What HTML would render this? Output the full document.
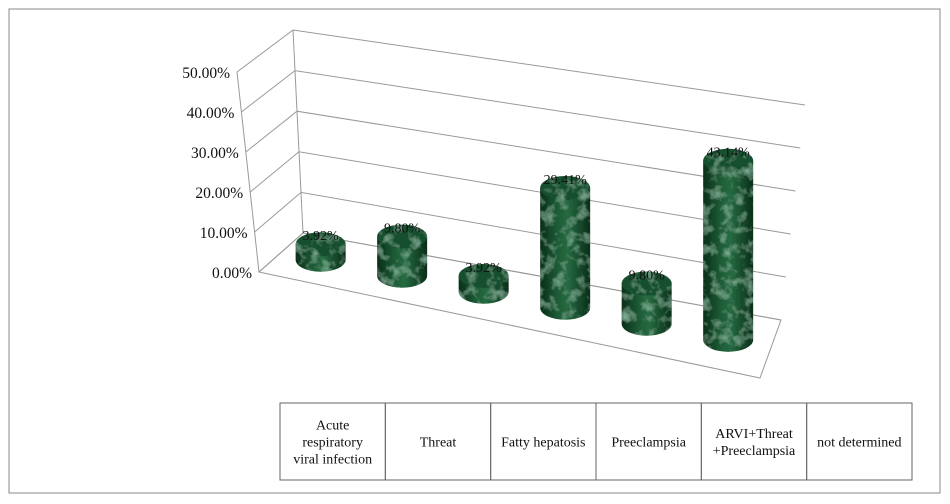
<!DOCTYPE html>
<html><head><meta charset="utf-8"><style>
body{margin:0;background:#fff;width:950px;height:504px;overflow:hidden;font-family:"Liberation Serif",serif}
svg{position:absolute;left:0;top:0}
</style></head><body>
<svg width="950" height="504">
<defs>
<linearGradient id="cylg" x1="0" x2="1" y1="0" y2="0">
<stop offset="0" stop-color="#082e18"/><stop offset="0.35" stop-color="#1d5c36"/><stop offset="0.55" stop-color="#266a41"/><stop offset="1" stop-color="#082e18"/></linearGradient>
<filter id="marble" x="0" y="0" width="100%" height="100%">
<feTurbulence type="fractalNoise" baseFrequency="0.09" numOctaves="3" seed="3" result="n"/>
<feColorMatrix in="n" type="matrix" values="0 0 0 0 0.3  0 0 0 0 0.6  0 0 0 0 0.42  0 0 0 1.5 -0.72" result="c"/>
<feComposite in="c" in2="SourceGraphic" operator="in" result="m"/>
<feMerge><feMergeNode in="SourceGraphic"/><feMergeNode in="m"/></feMerge>
</filter>
</defs>
<rect x="9" y="9" width="931" height="484" fill="none" stroke="#888"/>
<g id="grid"></g><g id="bars"></g><g id="tbl"></g>
</svg>
<script>
const categories=["Acute respiratory viral infection","Threat","Fatty hepatosis","Preeclampsia","ARVI+Threat +Preeclampsia","not determined"];
const values=[3.92,9.80,3.92,29.41,9.80,43.14];
const valueLabels=["3.92%","9.80%","3.92%","29.41%","9.80%","43.14%"];
const tickValues=[0,10,20,30,40,50];
const tickLabels=["0.00%","10.00%","20.00%","30.00%","40.00%","50.00%"];
const NS="http://www.w3.org/2000/svg";
function mk(t,a,p){const e=document.createElementNS(NS,t);for(const k in a)e.setAttribute(k,a[k]);p.appendChild(e);return e;}
const BL0=[303,233],BL50=[293,30],BR0=[781,320],BR50=[805,105],FL0=[259,272],FL50=[237,72],FR0=[760,378];
const L=(a,b,t)=>[a[0]+(b[0]-a[0])*t,a[1]+(b[1]-a[1])*t];
const vmax=50;
const grid=document.getElementById('grid');
const fl=mk('polygon',{points:[FL0,FR0,BR0,BL0].map(p=>p.join(',')).join(' '),fill:'none',stroke:'#999'},grid);

tickValues.forEach((v,i)=>{
 const t=v/vmax;const bl=L(BL0,BL50,t),br=L(BR0,BR50,t),f=L(FL0,FL50,t);
 const g=mk('polyline',{points:[f,bl,br].map(p=>p.join(',')).join(' '),fill:'none',stroke:'#999'},grid);
 
 const tx=mk('text',{x:f[0]-7,y:f[1]+6,'text-anchor':'end','font-size':'15.5',fill:'#111'},grid);
 tx.textContent=tickLabels[i];
 
});
const ax=mk('line',{x1:FL0[0],y1:FL0[1],x2:FL50[0],y2:FL50[1],stroke:'#999'},grid);

mk('line',{x1:BL0[0],y1:BL0[1],x2:BL50[0],y2:BL50[1],stroke:'#999'},grid);
const bars=document.getElementById('bars');
values.forEach((v,i)=>{
 const t=(i+0.5)/categories.length;
 const f=L(FL0,FR0,t),b=L(BL0,BR0,t);const c=L(f,b,0.52);
 const hb=L(BL0,BR0,t),ht=L(BL50,BR50,t);const scale=(hb[1]-ht[1])/vmax*0.97;
 const h=v*scale,rx=25,ry=12,x=c[0]-2,yb=c[1],yt=yb-h;
 const g=mk('g',{},bars);
 
 mk('path',{d:`M${x-rx},${yt} L${x-rx},${yb} A${rx},${ry} 0 0 0 ${x+rx},${yb} L${x+rx},${yt} Z`,fill:'url(#cylg)',filter:'url(#marble)'},g);
 mk('ellipse',{cx:x,cy:yt,rx:rx,ry:ry,fill:'#174f2e',filter:'url(#marble)'},g);
 const lb=mk('text',{x:x,y:yt-4,'text-anchor':'middle','font-size':'14',fill:'#111'},g);
 lb.textContent=valueLabels[i];
 
});
const tbl=document.getElementById('tbl');
const tx0=280,tw=632/6,ty=403,th=77;
categories.forEach((c,i)=>{
 const x=tx0+i*tw;
 const r=mk('rect',{x:x,y:ty,width:tw,height:th,fill:'none',stroke:'#666'},tbl);
 
});
const lines=[["Acute","respiratory","viral infection"],["Threat"],["Fatty hepatosis"],["Preeclampsia"],["ARVI+Threat","+Preeclampsia"],["not determined"]];
lines.forEach((ls,i)=>{
 const cx=tx0+i*tw+tw/2;const y0=ty+th/2+5-(ls.length-1)*8.5;
 const t=mk('text',{x:cx,'text-anchor':'middle','font-size':'14',fill:'#111'},tbl);
 
 ls.forEach((s,j)=>{const sp=mk('tspan',{x:cx,y:y0+j*17},t);sp.textContent=s;});
});
</script>
</body></html>
